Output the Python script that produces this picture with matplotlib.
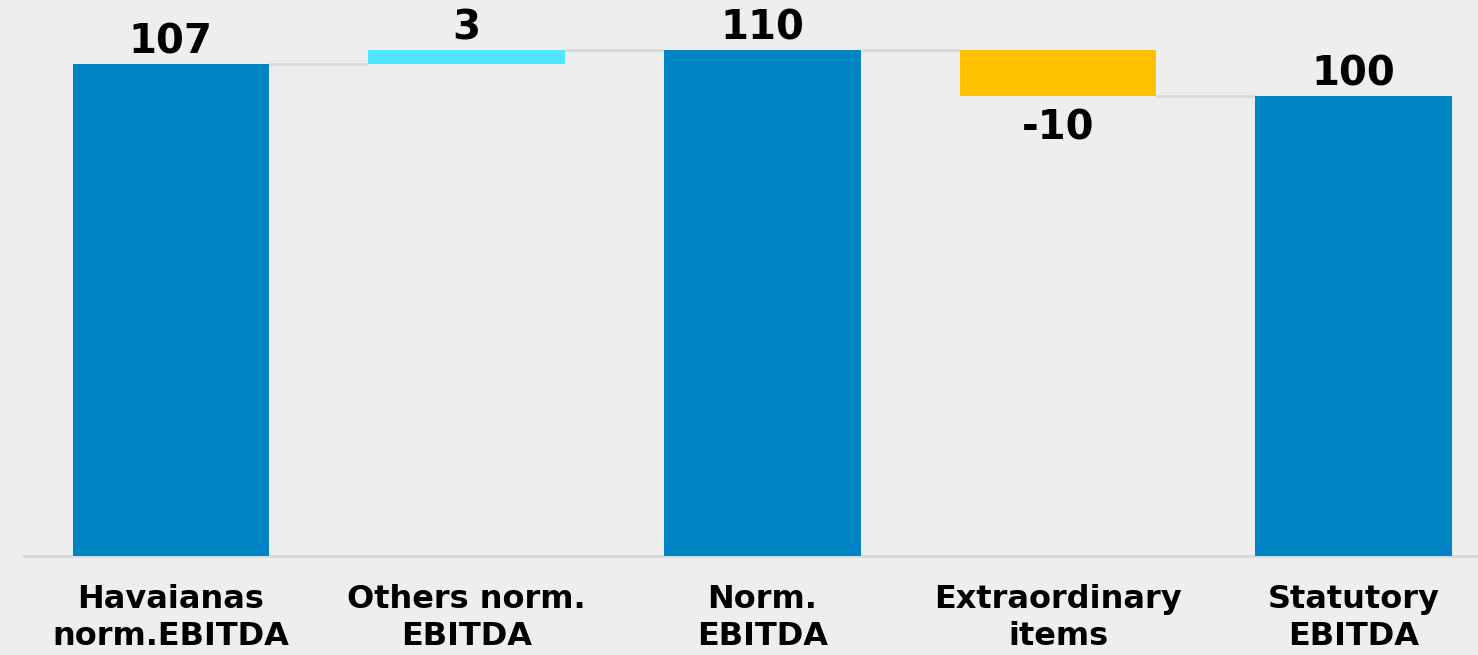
import matplotlib.pyplot as plt

# waterfall data
categories = ['Havaianas\nnorm.EBITDA', 'Others norm.\nEBITDA', 'Norm.\nEBITDA',
              'Extraordinary\nitems', 'Statutory\nEBITDA']
values = [107, 3, 110, -10, 100]
is_total = [True, False, True, False, True]
value_labels = ['107', '3', '110', '-10', '100']

BLUE = '#0085C4'
CYAN = '#50E6FF'
AMBER = '#FFC000'
BG = '#EEEEEE'
LINE = '#D9D9D9'

fig = plt.figure(figsize=(14.78, 6.55), dpi=100, facecolor=BG)
ax = fig.add_axes([23 / 1478, 99 / 655, 1 - 23 / 1478, 556 / 655])
ax.set_facecolor(BG)

width = 0.665
bottoms, heights, colors = [], [], []
running = 0
for v, tot in zip(values, is_total):
    if tot:
        bottoms.append(0)
        heights.append(v)
        colors.append(BLUE)
        running = v
    else:
        bottoms.append(running if v >= 0 else running + v)
        heights.append(abs(v))
        colors.append(CYAN if v >= 0 else AMBER)
        running += v

x = list(range(len(values)))
ax.bar(x, heights, bottom=bottoms, width=width, color=colors, zorder=3)

# connectors between bars
level = 0
for i in range(len(values) - 1):
    level = values[i] if is_total[i] else level + values[i]
    ax.plot([i + width / 2, i + 1 - width / 2], [level, level],
            color=LINE, linewidth=2, zorder=2, solid_capstyle='butt')

# value labels
for i, (v, lab) in enumerate(zip(values, value_labels)):
    top = bottoms[i] + heights[i]
    if v >= 0:
        ax.text(i, top + 0.4, lab, ha='center', va='bottom',
                fontsize=29, fontweight='bold', color='black')
    else:
        ax.text(i, bottoms[i] - 2.6, lab, ha='center', va='top',
                fontsize=29, fontweight='bold', color='black')

ax.set_xlim(-0.5, 4.42)
ax.set_ylim(0, 120.9)
ax.set_xticks(x)
ax.set_xticklabels(categories, fontsize=23, fontweight='bold', linespacing=1.25)
ax.tick_params(axis='x', length=0, pad=20)
ax.set_yticks([])
for s in ['top', 'right', 'left']:
    ax.spines[s].set_visible(False)
ax.spines['bottom'].set_color(LINE)
ax.spines['bottom'].set_linewidth(2)

fig.savefig('out.png', dpi=100, facecolor=BG)
